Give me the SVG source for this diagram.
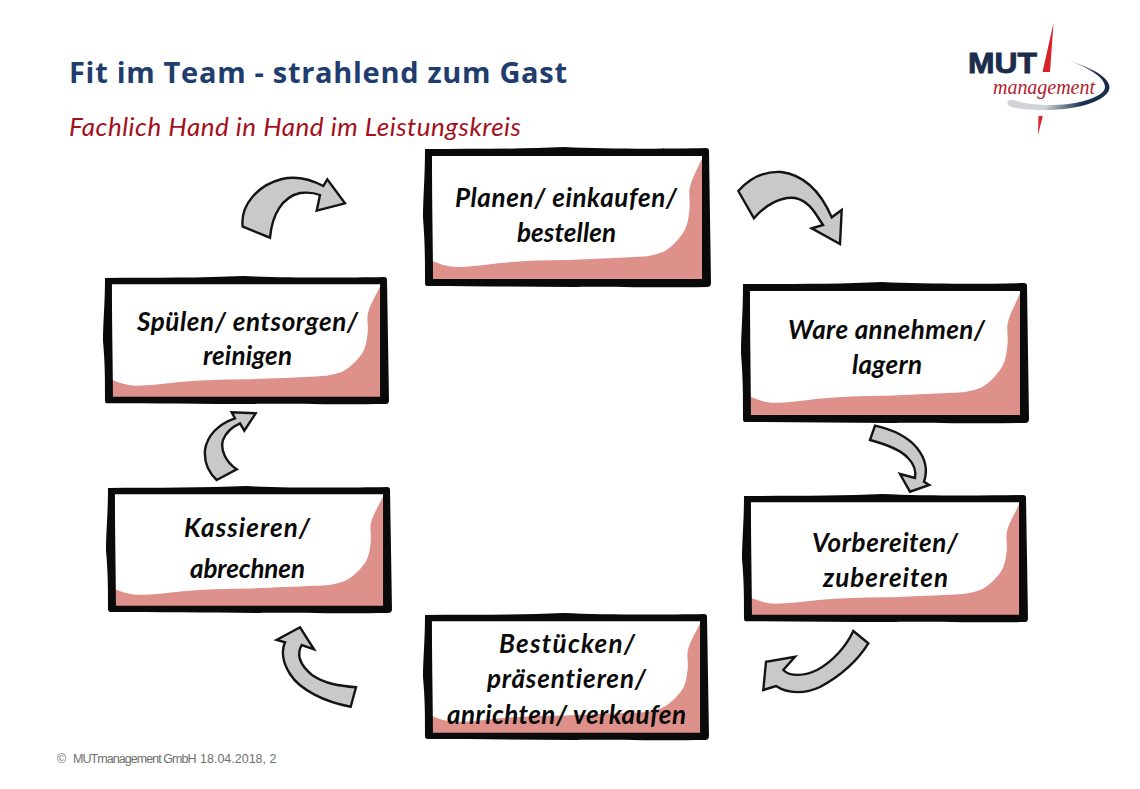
<svg xmlns="http://www.w3.org/2000/svg" width="1140" height="789" viewBox="0 0 1140 789">
  <style>
    .title { font: 700 29px "Open Sans", sans-serif; fill: #1f3d6e; }
    .subtitle { font: italic 26px "Lato", sans-serif; fill: #a3101c; font-variant-ligatures: none; }
    .label { font: italic 700 26px "Lato", sans-serif; fill: #0a0a0a; font-variant-ligatures: none; }
    .foot { font: 12.5px "Liberation Sans", sans-serif; fill: #707070; }
    .arrow { fill: #c9c9c9; stroke: #141414; stroke-width: 2.4; stroke-linejoin: miter; }
    .frame { fill: #0a0a0a; fill-rule: evenodd; }
    .paper { fill: #fff; }
    .wash { fill: #dd918a; }
  </style>
  <defs>
    <linearGradient id="swooshFade" x1="1067" y1="60" x2="1097" y2="74" gradientUnits="userSpaceOnUse">
      <stop offset="0" stop-color="#cfd2d7"/>
      <stop offset="1" stop-color="#1b2d4c"/>
    </linearGradient>
    <!-- Card drawn at 285x139, scaled per node -->
    <g id="card">
      <rect class="paper" x="7" y="6" width="273" height="128"/>
      <path class="wash" d="M279,8 C274,20 268,30 266,39 C264,45 267,55 265,65 C264,75 262,80 259,85 C252,95 245,101 239,104 C228,108 220,109 209,109 C190,110 165,111 143,112 C120,112 98,113 76,115 C60,117 45,119 33,119 C22,119 14,115 6,112 L8,133 L280,133 Z"/>
      <path class="frame" d="M1,1 C50,1 100,1 140,-1 C180,1 240,1 282,0 Q285,0 285,3 L287,135 Q287,139 283,139 C220,140 170,138 150,139 C100,139 50,138 3,138 Q1,138 1,135 C1,110 1,95 -1,70 C-1,50 1,30 1,1 Z M8,8 L278,8 L278,131 L9,131 C9,100 8,60 8,8 Z"/>
    </g>
  </defs>

  <rect width="1140" height="789" fill="#fff"/>

  <text class="title" x="69" y="83" textLength="498">Fit im Team - strahlend zum Gast</text>
  <text class="subtitle" x="69" y="136" textLength="452">Fachlich Hand in Hand im Leistungskreis</text>

  <g id="logo">
    <text x="968" y="73" font-family="'Liberation Sans', sans-serif" font-weight="700" font-size="30" fill="#1b2d4c" stroke="#1b2d4c" stroke-width="0.9" textLength="69" lengthAdjust="spacingAndGlyphs">MUT</text>
    <path d="M1053.5,23 L1050,72 L1042.5,72 Z" fill="#d8232a"/>
    <path d="M1042.8,116 L1038,135 L1038.5,116 Z" fill="#d8232a"/>
    <path d="M1067,60 C1090,67 1110,77 1109.5,88 C1108,100 1080,110 1045,110 C1030,110 1013,109 1008,105 C1006,101 1010,99 1014,100 C1030,106 1060,106 1075,103 C1095,99 1105,93 1105,87 C1105,78 1090,68 1067,60 Z" fill="url(#swooshFade)"/>
    <text x="993" y="94" font-family="'Liberation Serif', serif" font-style="italic" font-size="20" fill="#b01e2e" textLength="102">management</text>
  </g>

  <g id="connectors">
    <path class="arrow" d="M738.3,191 L754,218.3 C765,205 782,196 795,198 C810,201 816,215 823,225 L811.7,228.3 L840,244 L841.7,210 L831.7,217.3 C822,195 806,175 781,172 C765,171 750,178 738.3,191 Z"/>
    <path class="arrow" d="M875,425.7 L870,440 C885,444 900,449 908,458 C915,465 916,472 915,478 L900,474 L910,491.7 L929.3,485 L924,481.7 C928,470 925,458 917,448 C907,436 890,429 875,425.7 Z"/>
    <path class="arrow" d="M853.3,631 L868.3,643.3 C858,660 840,676 820,687 C805,694 788,694 776,686 L763.3,690 L766,661.7 L795,656.7 L783.3,670 C790,677 805,676 817,670 C832,662 846,647 853.3,631 Z"/>
    <path class="arrow" d="M356,687.3 L350.7,706.7 C325,702 300,690 290,674 C283,663 281,652 285,642.3 L276.7,640 L300,627.3 L314,649.3 L301.7,645 C296,655 300,665 312,675 C325,684 340,686 356,687.3 Z"/>
    <path class="arrow" d="M216.7,480 L236.7,469.3 C226,462 220,450 223,440 C226,432 232,427 240,423.3 L244.3,430.7 L255.7,413.3 L231.7,412.3 L235,418.3 C218,424 207,436 205,450 C204,462 208,472 216.7,480 Z"/>
    <path class="arrow" d="M242.7,226.7 L270,237.7 C272,215 282,197 300,193 C308,192 315,193 320,195 L316.7,210.7 L345,203.3 L327.3,179.3 L323.3,186 C308,178 295,176 282,179 C258,185 240,205 242.7,226.7 Z"/>
  </g>

  <g id="node-planen">
    <use href="#card" transform="translate(424,148)"/>
    <text class="label" x="455" y="207" textLength="222">Planen/ einkaufen/</text>
    <text class="label" x="517" y="242" textLength="99">bestellen</text>
  </g>
  <g id="node-ware">
    <use href="#card" transform="translate(742,283) scale(1,1.007)"/>
    <text class="label" x="788" y="339" textLength="197">Ware annehmen/</text>
    <text class="label" x="852" y="374" textLength="70">lagern</text>
  </g>
  <g id="node-vorbereiten">
    <use href="#card" transform="translate(743,495) scale(0.993,0.914)"/>
    <text class="label" x="812" y="552" textLength="146">Vorbereiten/</text>
    <text class="label" x="823" y="587" textLength="125">zubereiten</text>
  </g>
  <g id="node-bestuecken">
    <use href="#card" transform="translate(424,614) scale(0.993,0.906)"/>
    <text class="label" x="499" y="653" textLength="136">Bestücken/</text>
    <text class="label" x="487" y="688" textLength="159">präsentieren/</text>
    <text class="label" x="447" y="724" textLength="239">anrichten/ verkaufen</text>
  </g>
  <g id="node-kassieren">
    <use href="#card" transform="translate(107,487) scale(0.993,0.906)"/>
    <text class="label" x="184" y="537" textLength="126">Kassieren/</text>
    <text class="label" x="190" y="578" textLength="115">abrechnen</text>
  </g>
  <g id="node-spuelen">
    <use href="#card" transform="translate(104,277) scale(0.993,0.914)"/>
    <text class="label" x="137" y="331" textLength="221">Spülen/ entsorgen/</text>
    <text class="label" x="203" y="365" textLength="89">reinigen</text>
  </g>

  <text class="foot" y="763"><tspan x="57">©</tspan><tspan x="73" letter-spacing="-0.95">MUTmanagement GmbH</tspan><tspan x="200">18.04.2018, 2</tspan></text>
</svg>
